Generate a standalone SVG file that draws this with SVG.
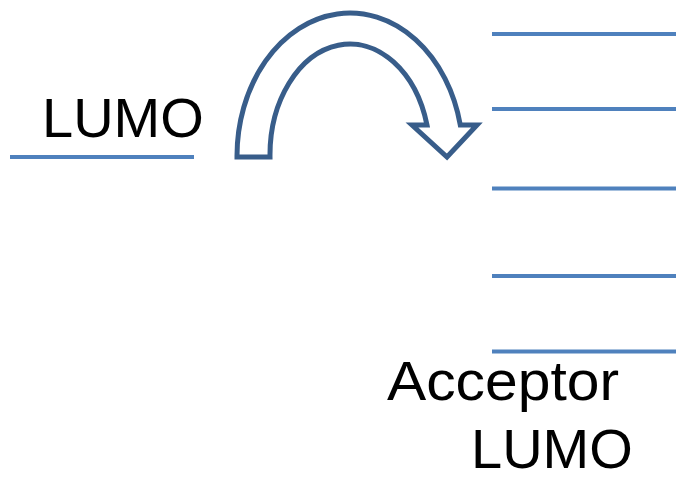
<svg xmlns="http://www.w3.org/2000/svg" width="676" height="479" viewBox="0 0 676 479">
  <style>
    .level { stroke: #4F81BD; stroke-width: 4; fill: none; }
    .label { font-family: "Liberation Sans", Arial, sans-serif; font-size: 56px; fill: #000; }
    .arrow { fill: #FFFFFF; stroke: #385D8A; stroke-width: 5; stroke-linejoin: miter; }
  </style>
  <rect width="676" height="479" fill="#FFFFFF"/>

  <!-- donor level -->
  <g id="donor-lumo">
    <line class="level" x1="10" y1="157" x2="194" y2="157"/>
    <text class="label" x="42" y="137">LUMO</text>
  </g>

  <!-- acceptor levels -->
  <g id="acceptor-levels">
    <line class="level" x1="492" y1="34" x2="676" y2="34"/>
    <line class="level" x1="492" y1="109" x2="676" y2="109"/>
    <line class="level" x1="492" y1="188.5" x2="676" y2="188.5"/>
    <line class="level" x1="492" y1="276" x2="676" y2="276"/>
    <line class="level" x1="492" y1="351.5" x2="676" y2="351.5"/>
  </g>

  <g id="acceptor-label">
    <text class="label" x="387" y="400" textLength="232" lengthAdjust="spacingAndGlyphs">Acceptor</text>
    <text class="label" x="471" y="468">LUMO</text>
  </g>

  <!-- curved transfer arrow -->
  <g id="connectors">
    <path class="arrow" d="M237,157 A113,143 0 0 1 460.3,125 L477,125 L447,157 L412,125 L427,125 A80,111 0 0 0 270,157 Z"/>
  </g>
</svg>
